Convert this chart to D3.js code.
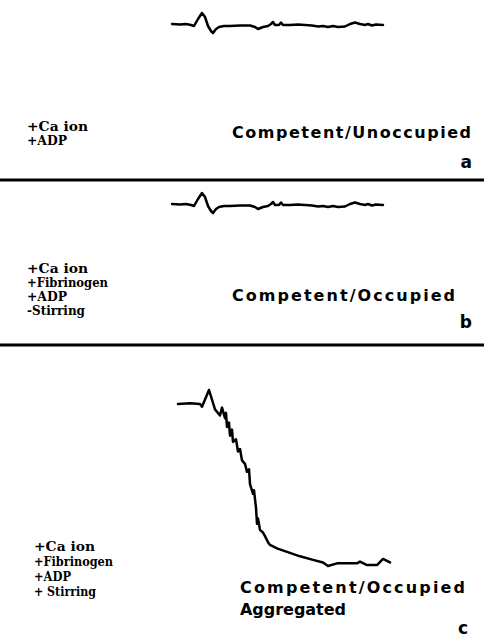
<!DOCTYPE html>
<html>
<head>
<meta charset="utf-8">
<script src="https://cdn.jsdelivr.net/npm/d3@7"></script>
<style>
  html, body { margin: 0; padding: 0; background: #fff; }
  svg { display: block; }
</style>
</head>
<body>
<svg id="chart" width="486" height="637"></svg>
<script>
// ---- data ----
const panelLetters = ["a", "b", "c"];

// traces for panels a and b: time (arbitrary units) and deflection (arbitrary units, up positive)
const timeAB = [0, 8, 14, 19, 22, 26, 30, 33, 36, 39, 41, 44, 47, 52, 58, 68, 78, 83, 86, 91, 96, 99, 101, 103, 107, 109, 111, 118, 126, 133, 140, 146, 151, 156, 161, 166, 173, 178, 183, 188, 193, 196, 200, 204, 211];
const valuesA = [1, 0.5, 1, 0, -1, 6, 12, 8, -1, -6, -8, -4, -2, -1, -1, -0.5, -0.5, -2, -4, -2, -1, 1, 3, 0, 0, 2.5, 0, 0, 0.5, 0, -0.5, -1.5, -1, -2, -1, -2, -1.5, 1, 2.5, 1, 0, 1, -0.5, 0.5, 0];
const valuesB = [1, 0.5, 1, 0, -1, 6, 12, 8, -1, -6, -8, -4, -2, -1, -1, -0.5, -0.5, -2, -4, -2, -1, 1, 3, 0, 0, 2.5, 0, 0, 0.5, 0, -0.5, -1.5, -1, -2, -1, -2, -1.5, 1, 2.5, 1, 0, 1, -0.5, 0.5, 0];

// trace for panel c: time and aggregation (%, plotted downward)
const timeC = [6, 18, 28, 30, 37, 43, 48, 50, 53, 54, 55, 57, 58, 60, 61, 64, 66, 68, 70, 73, 75, 77, 78, 81, 82, 84, 85, 86, 88, 91, 93, 96, 98, 105, 115, 128, 141, 151, 156, 165, 185, 188, 195, 205, 211, 218];
const valuesC = [8, 7.5, 8, 9.5, 0, 11, 14.5, 10, 16, 13, 21, 18.5, 26, 22.5, 29.5, 28, 35, 33.5, 40, 42, 46.5, 45, 53.5, 59, 57, 67, 76, 73, 79.5, 81, 83, 86.5, 88, 90, 92, 94.5, 96.5, 98, 100, 98.5, 98.5, 97.5, 99.5, 99.5, 96, 98];

const conditionsA = ["+Ca ion", "+ADP"];
const conditionsB = ["+Ca ion", "+Fibrinogen", "+ADP", "-Stirring"];
const conditionsC = ["+Ca ion", "+Fibrinogen", "+ADP", "+ Stirring"];
const statesA = ["Competent/Unoccupied"];
const statesB = ["Competent/Occupied"];
const statesC = ["Competent/Occupied", "Aggregated"];

// ---- drawing ----
const svg = d3.select("#chart");

const xT = d3.scaleLinear().domain([0, 211]).range([172, 383]);
const yA = d3.scaleLinear().domain([0, 10]).range([25, 15]);
const yB = d3.scaleLinear().domain([0, 10]).range([205, 195]);
const yC = d3.scaleLinear().domain([0, 100]).range([390, 566]);

function trace(times, vals, y) {
  const pts = times.map((t, i) => [t, vals[i]]);
  svg.append("path")
    .datum(pts)
    .attr("fill", "none")
    .attr("stroke", "#000")
    .attr("stroke-width", 2.5)
    .attr("stroke-linejoin", "round")
    .attr("stroke-linecap", "round")
    .attr("d", d3.line().x(d => xT(d[0])).y(d => y(d[1])));
}
trace(timeAB, valuesA, yA);
trace(timeAB, valuesB, yB);
trace(timeC, valuesC, yC);

// separators
[180, 345].forEach(yy => {
  svg.append("line")
    .attr("x1", 0).attr("x2", 484)
    .attr("y1", yy).attr("y2", yy)
    .attr("stroke", "#000").attr("stroke-width", 3);
});

const condFont = "'DejaVu Serif', 'Liberation Serif', serif";
const stateFont = "'DejaVu Sans', 'Liberation Sans', sans-serif";

function condList(list, x, y0, dy, widths) {
  svg.append("g").selectAll("text").data(list).join("text")
    .attr("x", x)
    .attr("y", (d, i) => y0 + i * dy)
    .attr("font-family", condFont)
    .attr("font-size", 13)
    .attr("font-weight", "bold")
    .attr("textLength", (d, i) => widths[i])
    .attr("lengthAdjust", "spacingAndGlyphs")
    .text(d => d);
}
condList(conditionsA, 27, 131, 14, [61, 40]);
condList(conditionsB, 27, 273, 14, [61, 81, 40, 58]);
condList(conditionsC, 34, 551, 15, [61, 79, 37, 62]);

function stateText(txt, x, y, w) {
  svg.append("text")
    .attr("x", x).attr("y", y)
    .attr("font-family", stateFont)
    .attr("font-size", 16)
    .attr("font-weight", "bold")
    .attr("textLength", w)
    .attr("lengthAdjust", "spacing")
    .text(txt);
}
stateText(statesA[0], 232, 138, 239);
stateText(statesB[0], 232, 301, 223);
stateText(statesC[0], 240, 593, 225);
stateText(statesC[1], 240, 615, 106);

const letterPos = [[472, 168], [472, 328], [468, 634]];
svg.append("g").selectAll("text").data(panelLetters).join("text")
  .attr("x", (d, i) => letterPos[i][0])
  .attr("y", (d, i) => letterPos[i][1])
  .attr("text-anchor", "end")
  .attr("font-family", stateFont)
  .attr("font-size", 17)
  .attr("font-weight", "bold")
  .text(d => d);
</script>
</body>
</html>
